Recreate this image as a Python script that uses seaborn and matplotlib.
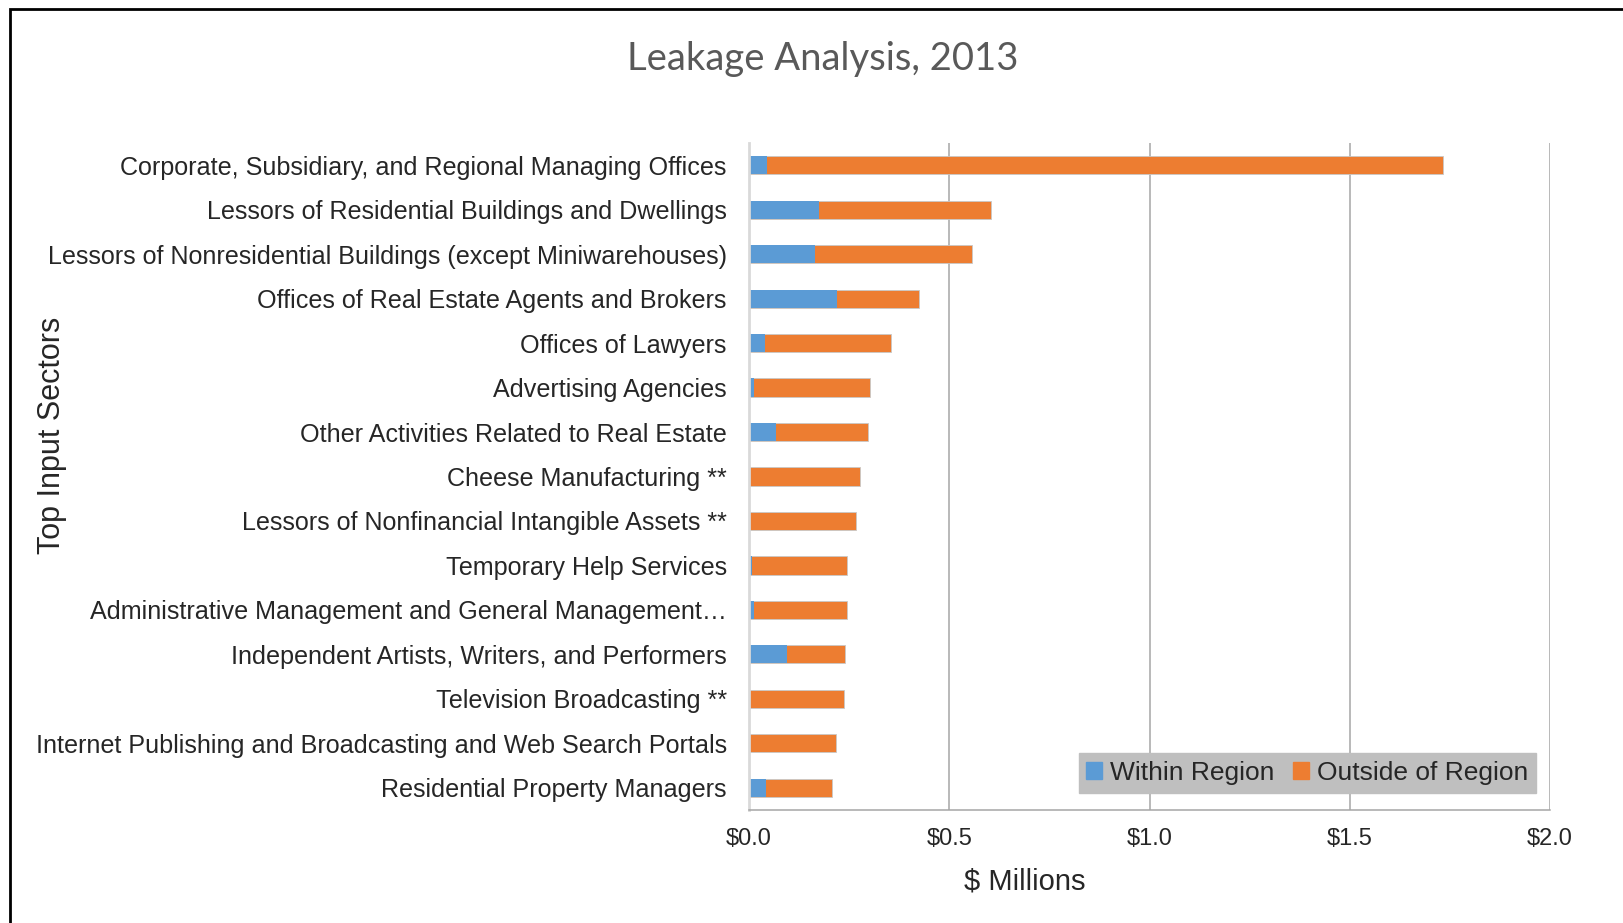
import matplotlib
matplotlib.use("Agg")
import matplotlib.pyplot as plt
import seaborn as sns
import pandas as pd
from matplotlib.patches import Rectangle, Patch

sectors = [
    "Corporate, Subsidiary, and Regional Managing Offices",
    "Lessors of Residential Buildings and Dwellings",
    "Lessors of Nonresidential Buildings (except Miniwarehouses)",
    "Offices of Real Estate Agents and Brokers",
    "Offices of Lawyers",
    "Advertising Agencies",
    "Other Activities Related to Real Estate",
    "Cheese Manufacturing **",
    "Lessors of Nonfinancial Intangible Assets **",
    "Temporary Help Services",
    "Administrative Management and General Management\u2026",
    "Independent Artists, Writers, and Performers",
    "Television Broadcasting **",
    "Internet Publishing and Broadcasting and Web Search Portals",
    "Residential Property Managers",
]
within_region = [0.045, 0.174, 0.165, 0.220, 0.041, 0.012, 0.067, 0.0, 0.0,
                 0.007, 0.013, 0.094, 0.0, 0.0, 0.042]
outside_region = [1.689, 0.429, 0.391, 0.204, 0.313, 0.291, 0.230, 0.276, 0.266,
                  0.238, 0.232, 0.146, 0.237, 0.218, 0.164]
x_ticks = [0.0, 0.5, 1.0, 1.5, 2.0]
x_tick_labels = ["$0.0", "$0.5", "$1.0", "$1.5", "$2.0"]

BLUE = "#5B9BD5"
ORANGE = "#ED7D31"

df = pd.DataFrame({"sector": sectors, "within": within_region, "outside": outside_region})
df["total"] = df["within"] + df["outside"]

sns.set_theme(style="white")
plt.rcParams["font.family"] = ["Liberation Sans", "DejaVu Sans"]

fig = plt.figure(figsize=(16.23, 9.23), dpi=100)
ax = fig.add_axes([749 / 1623, 1 - 810 / 923, 801 / 1623, 667 / 923])

# stacked bars: total in orange, within-region drawn over it in blue
sns.barplot(data=df, x="total", y="sector", color=ORANGE, width=0.41,
            saturation=1, edgecolor="#c8c8c8", linewidth=0.6, ax=ax)
sns.barplot(data=df, x="within", y="sector", color=BLUE, width=0.41,
            saturation=1, linewidth=0, ax=ax)

ax.set_xlim(0, 2.0)
ax.set_xticks(x_ticks)
ax.set_xticklabels(x_tick_labels, fontsize=17, color="#262626")
ax.set_xlabel("")
ax.set_ylabel("")
ax.tick_params(axis="y", length=0, pad=16, labelsize=18.1, labelcolor="#262626")
ax.tick_params(axis="x", length=7, width=1, color="#a6a6a6", pad=6, direction="out")
ax.xaxis.grid(True, color="#a6a6a6", linewidth=1.1)
ax.set_axisbelow(True)
for s in ["top", "right"]:
    ax.spines[s].set_visible(False)
ax.spines["left"].set_color("#d9d9d9")
ax.spines["left"].set_linewidth(2)
ax.spines["bottom"].set_color("#a6a6a6")
ax.spines["bottom"].set_linewidth(1.1)

handles = [Patch(facecolor=BLUE, edgecolor=BLUE), Patch(facecolor=ORANGE, edgecolor=ORANGE)]
leg = ax.legend(handles, ["Within Region", "Outside of Region"], loc="lower right",
                bbox_to_anchor=(0.999, 0.006), ncol=2, fontsize=19,
                frameon=True, fancybox=False, framealpha=1,
                handlelength=0.6, handleheight=0.6, handletextpad=0.3,
                columnspacing=0.7, borderpad=0.3)
leg.get_frame().set_facecolor("#bfbfbf")
leg.get_frame().set_edgecolor("#bfbfbf")

fig.text(823 / 1623, 1 - 59 / 923, "Leakage Analysis, 2013", ha="center", va="center",
         fontsize=27.5, color="#595959", family=["Lato", "DejaVu Sans"])
fig.text(52 / 1623, 1 - 435 / 923, "Top Input Sectors", rotation=90, ha="center",
         va="center", fontsize=22, color="#262626")
fig.text(1025 / 1623, 1 - 881 / 923, "$ Millions", ha="center", va="center",
         fontsize=21, color="#262626")

# chart frame
fig.patches.append(Rectangle((10 / 1623, -0.1), 1.2, 1.1 - 9 / 923, transform=fig.transFigure,
                             fill=False, edgecolor="black", linewidth=2, clip_on=False))

fig.savefig("out.png", dpi=100)
